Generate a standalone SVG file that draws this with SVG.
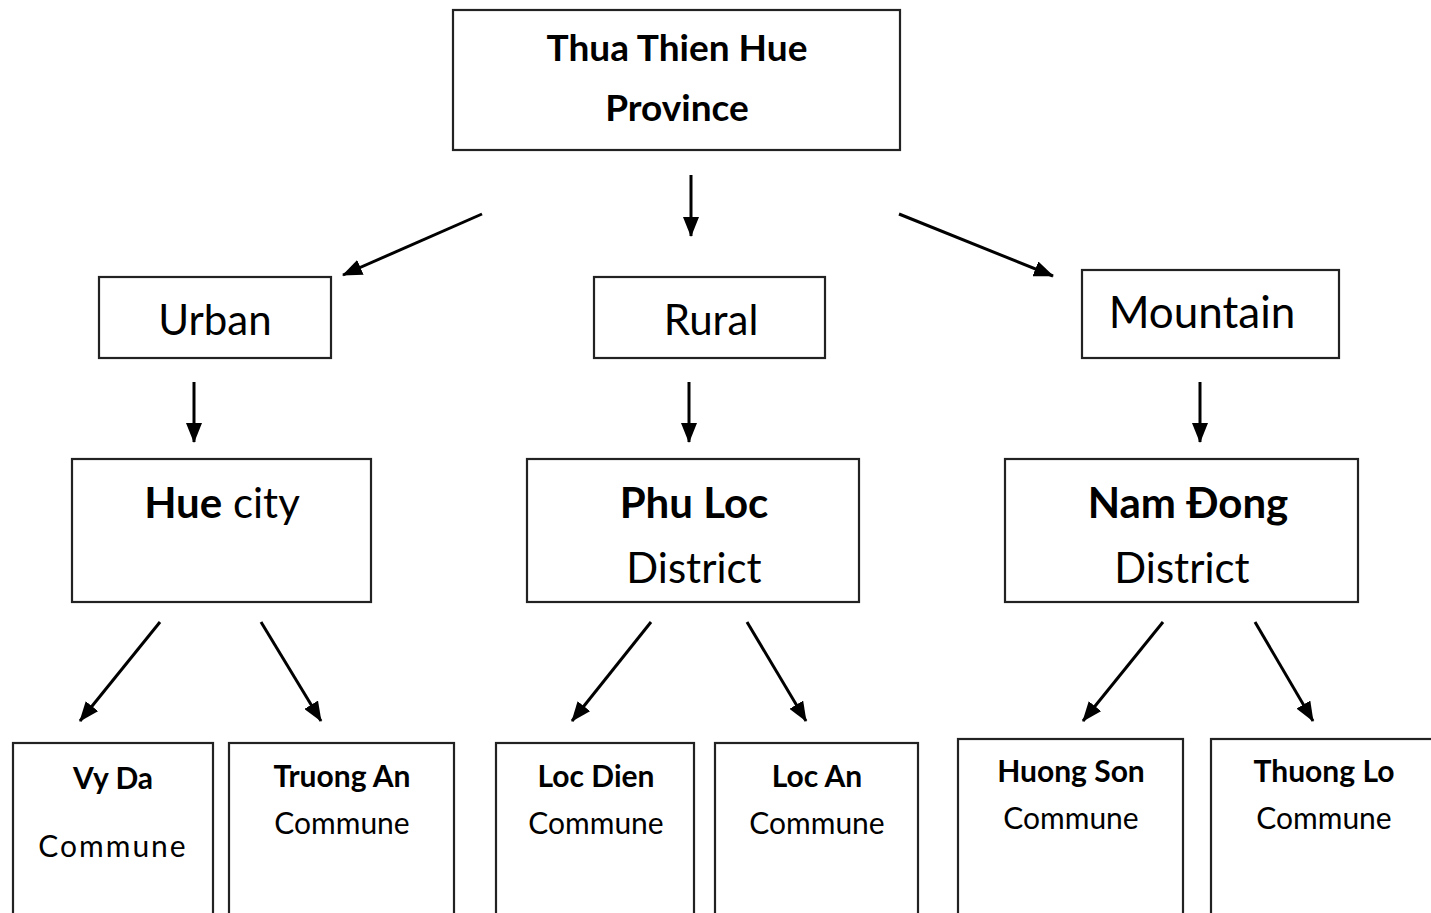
<svg xmlns="http://www.w3.org/2000/svg" width="1431" height="913" viewBox="0 0 1431 913">
<defs>
<marker id="ah" viewBox="0 0 20 16" refX="19" refY="8" markerWidth="20" markerHeight="16" markerUnits="userSpaceOnUse" orient="auto">
<path d="M0,0 L20,8 L0,16 Z" fill="#000"/>
</marker>
<style>
.box{fill:#fff;stroke:#222;stroke-width:2.2}
text{font-family:Lato,"Open Sans","Noto Sans",sans-serif;fill:#000;text-anchor:middle}
.b{font-weight:bold}
.c{stroke:#000;stroke-width:3;fill:none;marker-end:url(#ah)}
</style>
</defs>
<rect width="1431" height="913" fill="#fff"/>
<g id="connectors">
<line class="c" x1="482" y1="214" x2="343" y2="275"/>
<line class="c" x1="691" y1="175" x2="691" y2="236"/>
<line class="c" x1="899" y1="214" x2="1053" y2="276"/>
<line class="c" x1="194" y1="382" x2="194" y2="442"/>
<line class="c" x1="689" y1="382" x2="689" y2="442"/>
<line class="c" x1="1200" y1="382" x2="1200" y2="442"/>
<line class="c" x1="160" y1="622" x2="80" y2="721"/>
<line class="c" x1="261" y1="622" x2="321" y2="721"/>
<line class="c" x1="651" y1="622" x2="572" y2="721"/>
<line class="c" x1="747" y1="622" x2="806" y2="721"/>
<line class="c" x1="1163" y1="622" x2="1083" y2="721"/>
<line class="c" x1="1255" y1="622" x2="1313" y2="721"/>
</g>
<g id="province">
<rect class="box" x="453" y="10" width="447" height="140"/>
<text class="b" x="677" y="61" font-size="37">Thua Thien Hue</text>
<text class="b" x="677" y="121" font-size="37">Province</text>
</g>
<g id="urban">
<rect class="box" x="99" y="277" width="232" height="81"/>
<text x="215" y="335" font-size="42">Urban</text>
</g>
<g id="rural">
<rect class="box" x="594" y="277" width="231" height="81"/>
<text x="711" y="335" font-size="42">Rural</text>
</g>
<g id="mountain">
<rect class="box" x="1082" y="270" width="257" height="88"/>
<text x="1202" y="328" font-size="44">Mountain</text>
</g>
<g id="huecity">
<rect class="box" x="72" y="459" width="299" height="143"/>
<text x="222" y="518" font-size="42"><tspan class="b">Hue</tspan> city</text>
</g>
<g id="phuloc">
<rect class="box" x="527" y="459" width="332" height="143"/>
<text class="b" x="694" y="518" font-size="42">Phu Loc</text>
<text x="694" y="583" font-size="42">District</text>
</g>
<g id="namdong">
<rect class="box" x="1005" y="459" width="353" height="143"/>
<text class="b" x="1188" y="518" font-size="42">Nam Đong</text>
<text x="1182" y="583" font-size="42">District</text>
</g>
<g id="vyda">
<rect class="box" x="13" y="743" width="200" height="190"/>
<text class="b" x="113" y="789" font-size="30">Vy Da</text>
<text x="113" y="857" font-size="30" letter-spacing="2">Commune</text>
</g>
<g id="truongan">
<rect class="box" x="229" y="743" width="225" height="190"/>
<text class="b" x="342" y="787" font-size="30">Truong An</text>
<text x="342" y="834" font-size="30">Commune</text>
</g>
<g id="locdien">
<rect class="box" x="496" y="743" width="198" height="190"/>
<text class="b" x="596" y="787" font-size="30">Loc Dien</text>
<text x="596" y="834" font-size="30">Commune</text>
</g>
<g id="locan">
<rect class="box" x="715" y="743" width="203" height="190"/>
<text class="b" x="817" y="787" font-size="30">Loc An</text>
<text x="817" y="834" font-size="30">Commune</text>
</g>
<g id="huongson">
<rect class="box" x="958" y="739" width="225" height="194"/>
<text class="b" x="1071" y="782" font-size="30">Huong Son</text>
<text x="1071" y="829" font-size="30">Commune</text>
</g>
<g id="thuonglo">
<rect class="box" x="1211" y="739" width="240" height="194"/>
<text class="b" x="1324" y="782" font-size="30">Thuong Lo</text>
<text x="1324" y="829" font-size="30">Commune</text>
</g>
</svg>
